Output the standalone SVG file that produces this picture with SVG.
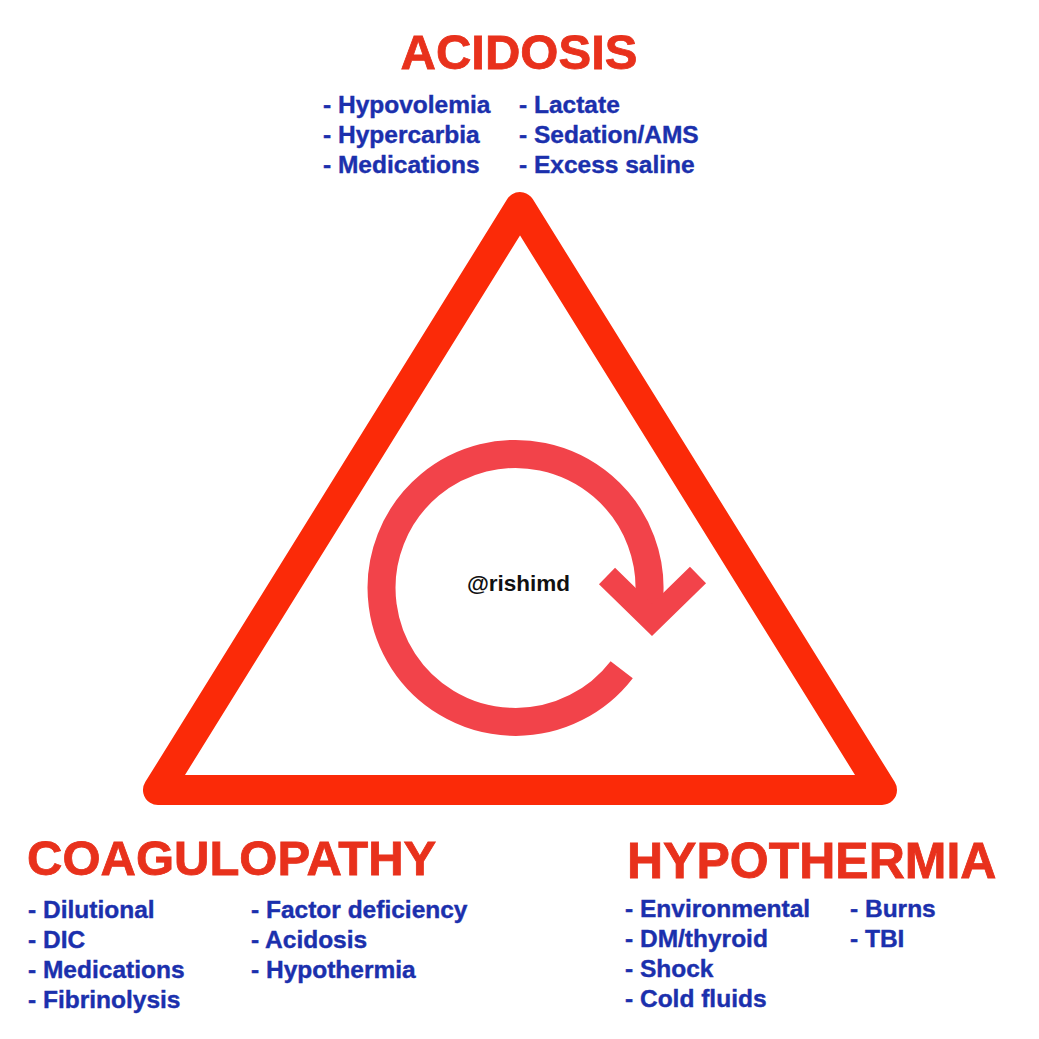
<svg xmlns="http://www.w3.org/2000/svg" width="1039" height="1039" viewBox="0 0 1039 1039">
<style>
.title{font-family:"Liberation Sans",Arial,sans-serif;font-weight:bold;font-size:49px;fill:#e8311c;stroke:#e8311c;stroke-width:0.8}
.item{font-family:"Liberation Sans",Arial,sans-serif;font-weight:bold;font-size:24.5px;fill:#1b30ad;stroke:#1b30ad;stroke-width:0.4}
.tag{font-family:"Liberation Sans",Arial,sans-serif;font-weight:bold;font-size:22.5px;fill:#111}
</style>
<rect width="1039" height="1039" fill="#ffffff"/>
<g id="triangle">
<polygon points="520,207 158,790 882,790" fill="none" stroke="#fb2a08" stroke-width="30" stroke-linejoin="round"/>
</g>
<g id="connectors">
<path d="M621.7,669.7 A134,134 0 1 1 649,600 L652,616" fill="none" stroke="#f2434a" stroke-width="28"/>
<polyline points="607,576 652,620 698,575" fill="none" stroke="#f2434a" stroke-width="23" stroke-linejoin="miter"/>
</g>
<g id="center-label">
<text class="tag" x="518.5" y="591" text-anchor="middle">@rishimd</text>
</g>
<g id="acidosis">
<text class="title" x="519" y="69" text-anchor="middle">ACIDOSIS</text>
<text class="item" x="323" y="113">- Hypovolemia</text>
<text class="item" x="323" y="143">- Hypercarbia</text>
<text class="item" x="323" y="173">- Medications</text>
<text class="item" x="519" y="113">- Lactate</text>
<text class="item" x="519" y="143">- Sedation/AMS</text>
<text class="item" x="519" y="173">- Excess saline</text>
</g>
<g id="coagulopathy">
<text class="title" x="27" y="875">COAGULOPATHY</text>
<text class="item" x="28" y="918">- Dilutional</text>
<text class="item" x="28" y="948">- DIC</text>
<text class="item" x="28" y="978">- Medications</text>
<text class="item" x="28" y="1008">- Fibrinolysis</text>
<text class="item" x="251" y="918">- Factor deficiency</text>
<text class="item" x="251" y="948">- Acidosis</text>
<text class="item" x="251" y="978">- Hypothermia</text>
</g>
<g id="hypothermia">
<text class="title" x="627" y="878" style="font-size:50px">HYPOTHERMIA</text>
<text class="item" x="625" y="917">- Environmental</text>
<text class="item" x="625" y="947">- DM/thyroid</text>
<text class="item" x="625" y="977">- Shock</text>
<text class="item" x="625" y="1007">- Cold fluids</text>
<text class="item" x="850" y="917">- Burns</text>
<text class="item" x="850" y="947">- TBI</text>
</g>
</svg>
